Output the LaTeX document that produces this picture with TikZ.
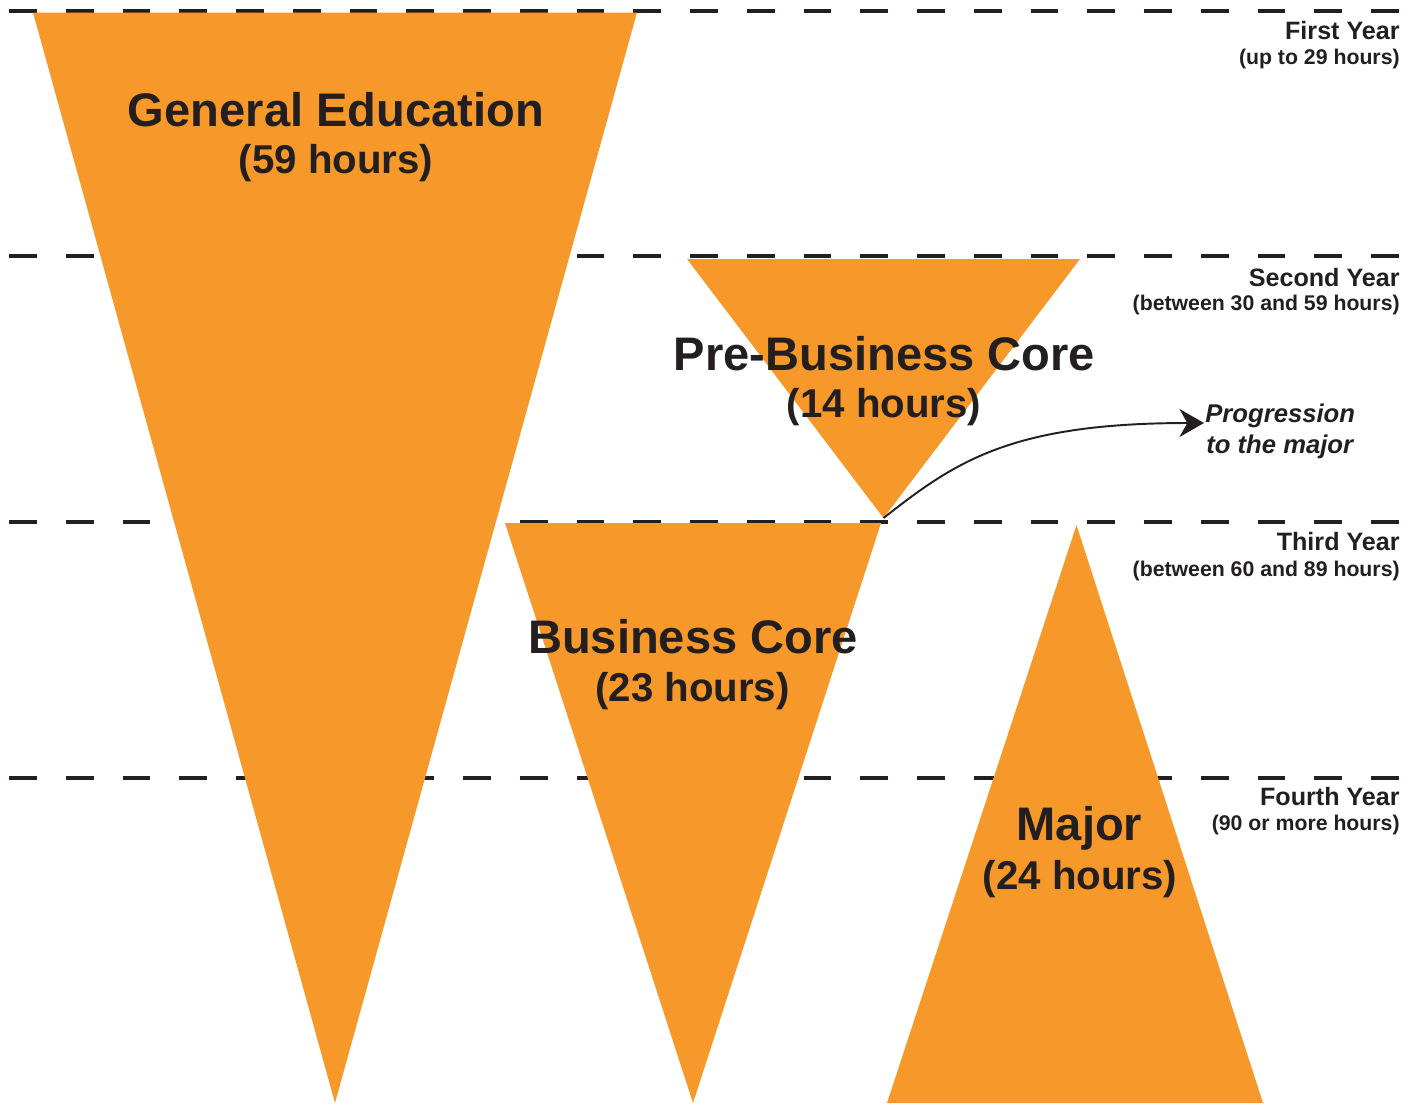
\documentclass[tikz,border=0pt]{standalone}
\usepackage{fontspec}
\setmainfont{Liberation Sans}
\usetikzlibrary{arrows.meta}
\definecolor{orng}{HTML}{F7992A}
\definecolor{ink}{HTML}{231F20}
\begin{document}
\begin{tikzpicture}[x=0.02cm,y=-0.02cm,
  yearline/.style={draw=ink,line width=2.3pt,dash pattern=on 15.9pt off 16.4pt},
  funnel/.style={fill=orng,draw=none},
  maintitle/.style={text=ink,font=\fontsize{26.8}{30}\selectfont\bfseries,anchor=base,inner sep=0pt},
  mainsub/.style={text=ink,font=\fontsize{22.9}{26}\selectfont\bfseries,anchor=base,inner sep=0pt},
  yeartitle/.style={text=ink,font=\fontsize{14.3}{16}\selectfont\bfseries,anchor=base east,inner sep=0pt},
  yearsub/.style={text=ink,font=\fontsize{12.1}{14}\selectfont\bfseries,anchor=base east,inner sep=0pt},
  prog/.style={text=ink,font=\fontsize{14.6}{17}\selectfont\bfseries\itshape,anchor=base west,inner sep=0pt},
  progarrow/.style={draw=ink,line width=1.1pt,-{Stealth[length=14pt,width=16pt,inset=4.5pt]}}
]
\useasboundingbox (0,0) rectangle (1419,1103);
% year lines
\draw[yearline] (9,11) -- (1405,11);
\draw[yearline] (9,256) -- (1405,256);
\draw[yearline] (9,522) -- (1405,522);
\draw[yearline] (9,778) -- (1405,778);
% funnels
\coordinate (geL) at (33,12.5);
\coordinate (geR) at (637,12.5);
\coordinate (geA) at (335,1103);
\fill[funnel] (geL) -- (geR) -- (geA) -- cycle;
\coordinate (pbL) at (687,259);
\coordinate (pbR) at (1080,259);
\coordinate (pbapex) at (883.5,518);
\fill[funnel] (pbL) -- (pbR) -- (pbapex) -- cycle;
\coordinate (bcL) at (505,523);
\coordinate (bcR) at (881,523);
\coordinate (bcA) at (693,1103);
\fill[funnel] (bcL) -- (bcR) -- (bcA) -- cycle;
\coordinate (mjA) at (1076.5,525);
\coordinate (mjL) at (887,1103);
\coordinate (mjR) at (1263,1103);
\fill[funnel] (mjA) -- (mjR) -- (mjL) -- cycle;
% main labels
\node[maintitle] (getitle) at (336,126) {General Education};
\node[mainsub] (gesub) at (336,173) {(59 hours)};
\node[maintitle] (pbtitle) at (884.5,370) {Pre-Business Core};
\node[mainsub] (pbsub) at (884,417) {(14 hours)};
\node[maintitle] (bctitle) at (693,653) {Business Core};
\node[mainsub] (bcsub) at (692.5,701) {(23 hours)};
\node[maintitle] (mjtitle) at (1079.5,840) {Major};
\node[mainsub] (mjsub) at (1080,889) {(24 hours)};
% year labels
\node[yeartitle] (y1) at (1400,39) {First Year};
\node[yearsub] (y1s) at (1400,64) {(up to 29 hours)};
\node[yeartitle] (y2) at (1400,286) {Second Year};
\node[yearsub] (y2s) at (1400,310) {(between 30 and 59 hours)};
\node[yeartitle] (y3) at (1400,550) {Third Year};
\node[yearsub] (y3s) at (1400,576) {(between 60 and 89 hours)};
\node[yeartitle] (y4) at (1400,805) {Fourth Year};
\node[yearsub] (y4s) at (1400,830) {(90 or more hours)};
% progression
\node[prog] (prog1) at (1205,422) {Progression};
\node[prog] (prog2) at (1206,453) {to the major};
\coordinate (progtip) at (1204,423);
\draw[progarrow] (pbapex) .. controls (955,462) and (1010,423) .. (progtip);
\end{tikzpicture}
\end{document}
